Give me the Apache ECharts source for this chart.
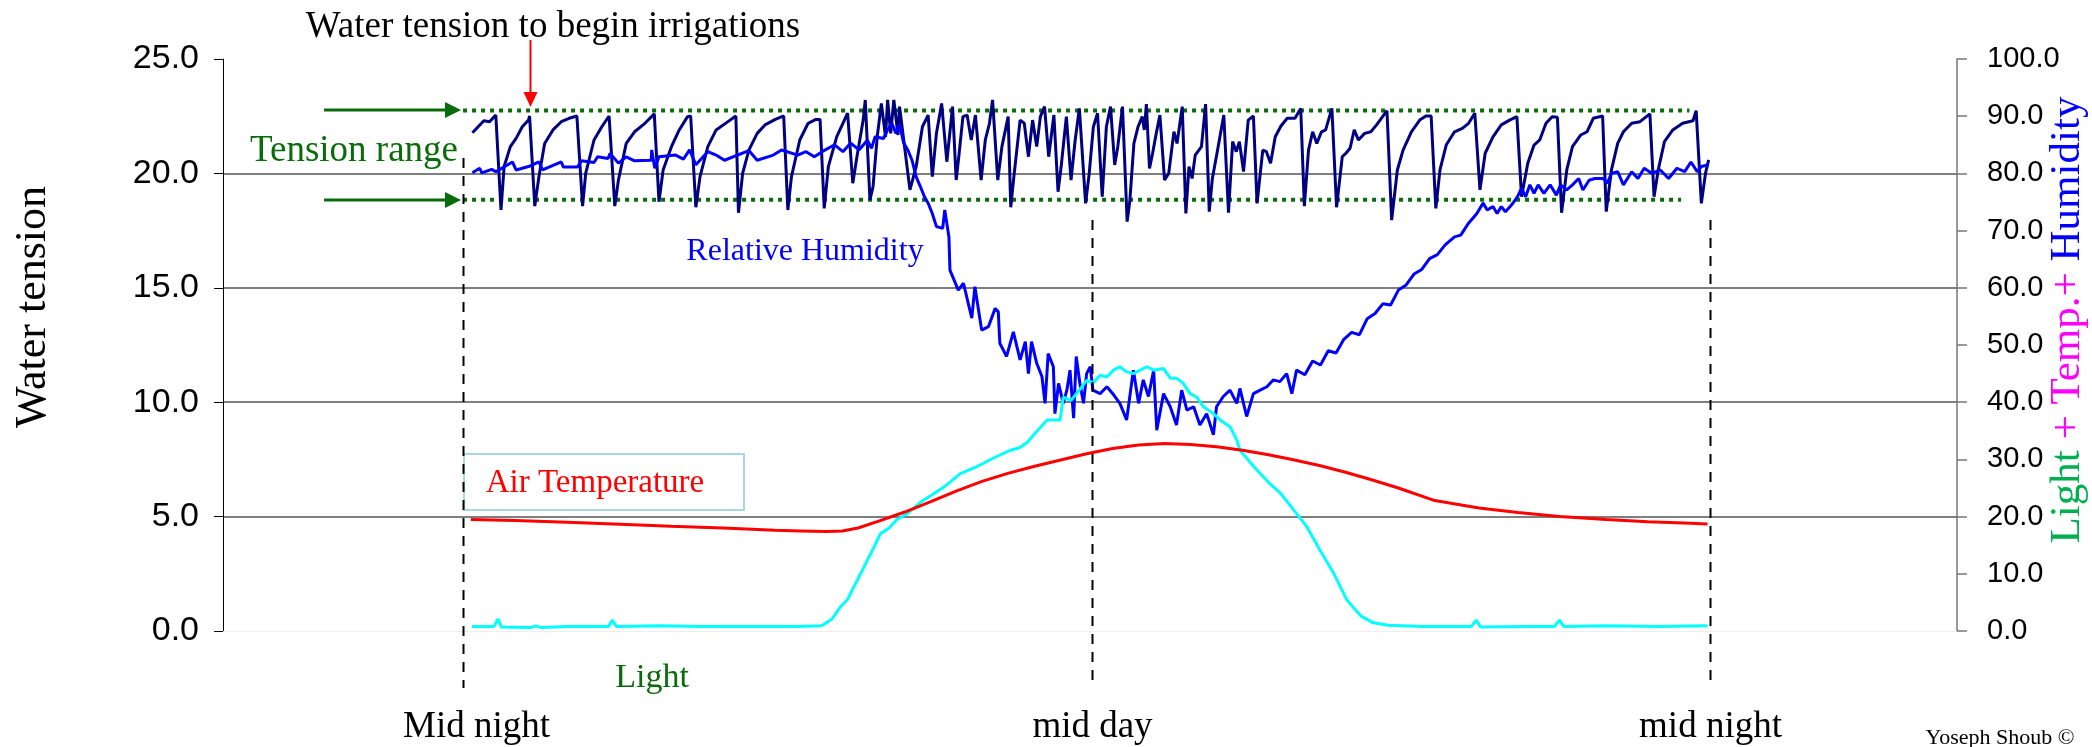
<!DOCTYPE html>
<html>
<head>
<meta charset="utf-8">
<script src="https://cdn.jsdelivr.net/npm/echarts@6/dist/echarts.min.js"></script>
<style>
  html, body { margin: 0; padding: 0; background: #fff; }
  #main { width: 2092px; height: 747px; }
</style>
</head>
<body>
<div id="main"></div>
<script>
// 数据：[小时, 数值]
// 水分张力（左轴）
const tension = [
  [0.18,21.78],[0.40,22.30],[0.51,22.26],[0.63,22.55],[0.65,22.55],[0.73,18.40],
  [0.79,20.30],[0.91,21.17],[1.02,21.53],[1.14,22.04],[1.26,22.33],[1.28,22.51],[1.38,18.57],
  [1.46,19.86],[1.57,21.31],[1.73,21.90],[1.89,22.26],[2.04,22.41],[2.19,22.51],[2.30,18.57],
  [2.36,20.00],[2.52,21.46],[2.67,22.04],[2.81,22.51],[2.92,18.57],
  [2.99,19.71],[3.14,21.31],[3.30,21.82],[3.50,22.19],[3.68,22.60],[3.77,18.76],
  [3.85,20.15],[4.01,21.17],[4.16,21.90],[4.32,22.48],[4.38,22.51],[4.48,18.52],
  [4.56,19.86],[4.71,21.17],[4.87,21.90],[5.07,22.22],[5.25,22.51],[5.30,18.28],
  [5.38,20.00],[5.50,21.02],[5.66,21.75],[5.81,22.12],[6.01,22.36],[6.17,22.51],[6.25,18.40],
  [6.32,19.86],[6.48,21.46],[6.64,22.19],[6.79,22.36],[6.87,22.36],[6.95,18.47],
  [7.03,20.30],[7.19,21.60],[7.31,22.19],[7.40,22.63],[7.50,19.57],[7.58,20.73],[7.70,22.33],
  [7.74,23.21],[7.83,18.84],[7.89,19.42],[7.97,21.60],[8.05,23.06],[8.13,21.60],[8.17,23.21],
  [8.23,21.75],[8.29,23.21],[8.37,21.68],[8.40,22.92],[8.48,21.46],[8.60,19.28],[8.72,20.30],
  [8.84,22.04],[8.95,22.55],[9.03,19.86],[9.11,21.75],[9.21,23.06],[9.31,20.51],[9.42,22.92],
  [9.49,19.71],[9.54,20.73],[9.62,22.48],[9.70,22.55],[9.78,21.46],[9.86,22.55],[9.97,19.71],
  [10.05,21.46],[10.13,22.19],[10.19,23.21],[10.29,19.71],[10.37,21.17],[10.49,22.48],[10.54,18.52],
  [10.60,19.86],[10.72,22.33],[10.80,22.19],[10.88,20.73],[10.96,22.33],[11.04,21.17],[11.11,22.48],
  [11.19,22.92],[11.27,20.73],[11.37,22.55],[11.45,19.20],[11.51,20.30],[11.61,22.48],[11.70,19.71],
  [11.78,21.46],[11.86,22.84],[11.98,18.69],
  [12.05,20.00],[12.13,22.04],[12.21,22.63],[12.30,18.98],[12.38,22.04],[12.46,22.92],[12.54,20.37],
  [12.60,21.17],[12.69,22.92],[12.78,17.89],[12.83,18.76],[12.91,21.31],[12.99,22.04],[13.07,22.48],
  [13.11,21.90],[13.15,23.03],[13.21,20.22],[13.27,20.88],[13.34,21.75],[13.41,22.55],[13.50,19.71],
  [13.58,20.00],[13.68,21.82],[13.74,21.31],[13.84,22.92],[13.91,18.25],[13.97,20.30],[14.03,19.78],
  [14.09,20.80],[14.21,21.17],[14.29,23.03],[14.36,18.33],[14.42,19.78],[14.52,21.02],[14.64,22.55],
  [14.73,18.28],[14.81,21.39],[14.88,20.95],[14.94,21.39],[15.02,20.08],[15.11,22.33],[15.21,22.51],
  [15.28,18.69],[15.39,21.02],[15.46,20.95],[15.54,20.44],[15.63,21.60],[15.74,22.07],[15.86,22.41],
  [16.01,22.41],[16.12,22.84],[16.19,18.57],[16.27,21.02],[16.35,21.82],[16.43,21.31],[16.52,21.82],
  [16.60,21.90],[16.72,22.84],[16.81,18.52],[16.92,20.73],[16.99,20.88],[17.07,21.10],[17.15,21.90],
  [17.23,21.46],[17.35,21.75],[17.47,21.82],[17.58,22.12],[17.78,22.74],[17.87,17.96],
  [17.98,20.15],[18.09,21.02],[18.25,21.82],[18.41,22.33],[18.53,22.51],[18.63,22.51],[18.72,18.47],
  [18.80,20.15],[18.92,21.24],[19.08,21.82],[19.23,21.97],[19.35,22.19],[19.47,22.63],[19.57,19.28],
  [19.67,20.88],[19.82,21.60],[19.98,22.12],[20.14,22.33],[20.28,22.48],[20.37,18.98],
  [20.49,20.44],[20.61,21.24],[20.72,21.46],[20.84,22.19],[20.96,22.48],[21.06,22.45],[21.14,18.28],
  [21.24,20.15],[21.35,21.17],[21.51,21.68],[21.63,21.82],[21.75,22.41],[21.93,22.51],[22.00,18.33],
  [22.10,20.15],[22.22,21.31],[22.33,21.82],[22.49,22.19],[22.65,22.26],[22.84,22.60],[22.92,18.98],
  [23.00,20.15],[23.12,21.39],[23.28,21.90],[23.47,22.19],[23.67,22.30],[23.73,22.74],[23.83,18.69],
  [23.91,20.00],[23.97,20.59]
]

// 相对湿度（右轴）
const humidity = [
  [0.18,80.1],[0.32,80.9],[0.36,80.1],[0.55,80.7],[0.63,80.3],[0.95,82.0],[1.02,80.6],[1.26,81.2],
  [1.46,82.0],[1.53,80.6],[1.89,82.0],[1.93,81.1],[2.20,81.1],[2.28,82.2],[2.52,81.9],[2.59,82.9],
  [2.79,82.6],[2.83,83.5],[2.99,81.8],[3.14,82.9],[3.30,82.2],[3.62,82.3],[3.63,84.1],[3.69,80.9],
  [3.77,82.9],[4.09,83.2],[4.24,82.5],[4.36,84.1],[4.48,81.5],[4.71,83.8],[4.87,83.2],[5.03,82.3],
  [5.50,84.0],[5.66,82.3],[5.97,83.2],[6.13,84.1],[6.44,83.2],[6.60,83.8],[6.76,82.9],[6.91,83.8],
  [7.15,85.0],[7.31,83.8],[7.46,85.3],[7.62,84.1],[7.78,85.8],[7.86,84.4],[7.93,86.4],[8.09,86.1],
  [8.17,87.6],[8.25,88.8],[8.33,87.0],[8.40,88.5],[8.48,85.3],[8.56,84.1],[8.64,82.3],[8.72,79.4],
  [8.80,77.7],[8.88,75.9],[8.95,74.8],[9.03,73.0],[9.11,70.7],[9.23,70.4],[9.27,73.6],[9.35,68.9],
  [9.37,63.1],[9.53,59.6],[9.63,60.8],[9.79,54.7],[9.85,60.2],[9.98,52.6],[10.11,53.2],[10.24,56.4],
  [10.30,55.8],[10.33,50.3],[10.46,48.0],[10.59,52.3],[10.72,47.4],[10.82,50.6],[10.88,45.0],
  [10.94,50.6],[11.04,46.8],[11.14,44.5],[11.20,39.8],[11.26,48.5],[11.36,46.2],[11.39,38.0],
  [11.46,43.3],[11.55,39.8],[11.62,42.1],[11.68,45.6],[11.75,37.2],[11.80,48.0],[11.87,43.3],
  [11.94,39.8],[12.00,45.0],[12.07,46.2],[12.12,42.1],[12.26,41.5],[12.39,42.7],[12.52,41.3],
  [12.64,39.8],[12.77,36.9],[12.90,45.6],[13.00,39.8],[13.09,43.9],[13.19,41.0],[13.29,45.6],
  [13.35,35.1],[13.48,41.5],[13.61,39.2],[13.73,36.0],[13.83,42.1],[13.93,38.6],[14.06,39.2],
  [14.18,36.0],[14.31,38.0],[14.44,34.3],[14.50,39.2],[14.63,41.0],[14.76,42.1],[14.89,39.8],
  [14.95,42.4],[15.08,37.5],[15.21,41.5],[15.34,42.1],[15.47,42.7],[15.59,43.9],[15.72,43.6],
  [15.85,45.0],[15.95,41.5],[16.04,45.6],[16.20,44.8],[16.35,47.2],[16.50,46.5],[16.65,49.0],
  [16.80,48.6],[16.95,51.0],[17.10,52.2],[17.25,51.8],[17.40,54.6],[17.55,55.5],[17.70,57.2],
  [17.85,57.0],[18.00,59.6],[18.15,60.5],[18.30,62.4],[18.45,63.2],[18.60,65.1],[18.75,65.8],
  [18.90,67.5],[19.08,68.9],[19.20,69.2],[19.35,71.3],[19.51,73.0],[19.63,74.8],[19.71,73.6],
  [19.82,74.2],[19.90,73.0],[19.98,74.2],[20.06,73.3],[20.18,74.5],[20.29,75.9],[20.37,77.4],
  [20.45,75.9],[20.53,78.0],[20.61,76.5],[20.69,78.0],[20.80,76.5],[20.92,78.0],[21.04,76.2],
  [21.12,78.0],[21.24,77.1],[21.35,78.0],[21.47,79.1],[21.55,77.1],[21.67,78.8],[21.78,79.1],
  [21.94,79.1],[22.02,78.3],[22.10,80.0],[22.22,80.3],[22.33,78.0],[22.49,80.3],[22.61,79.1],
  [22.73,80.9],[22.88,80.0],[23.04,80.6],[23.20,79.1],[23.36,80.9],[23.51,80.3],[23.63,82.0],
  [23.75,80.3],[23.83,81.2],[23.97,81.5]
]

// 气温（右轴）
const airTemp = [
  [0.15,19.5],[1.0,19.3],[2.0,19.0],[2.9,18.7],[4.0,18.3],[5.0,18.0],[6.0,17.6],[6.5,17.5],
  [7.0,17.4],[7.3,17.5],[7.6,18.0],[8.0,19.2],[8.5,20.8],[9.0,22.6],[9.5,24.5],[10.0,26.2],
  [10.5,27.6],[11.0,28.8],[11.5,29.9],[12.0,31.0],[12.5,31.9],[13.0,32.5],[13.5,32.8],[14.0,32.6],
  [14.5,32.2],[15.0,31.6],[15.5,30.8],[16.0,29.9],[16.5,28.9],[17.0,27.7],[17.5,26.4],[18.0,25.0],
  [18.7,22.8],[19.55,21.5],[20.3,20.7],[21.1,20.0],[22.0,19.5],[22.8,19.1],[23.5,18.9],[23.95,18.7]
]

// 光照（右轴）
const light = [
  [0.17,0.8],[0.60,0.8],[0.67,2.1],[0.74,0.7],[1.30,0.6],[1.40,0.9],[1.50,0.6],[2.00,0.8],
  [2.80,0.8],[2.87,1.9],[2.95,0.8],[3.80,0.9],[4.60,0.8],[5.60,0.8],[6.40,0.8],[6.90,0.9],
  [7.10,2.1],[7.26,4.2],[7.40,5.5],[7.52,7.7],[7.65,10.0],[7.78,12.4],[7.90,14.5],[8.03,17.0],
  [8.20,18.0],[8.35,19.5],[8.55,20.5],[8.80,22.5],[9.06,24.0],[9.30,25.5],[9.57,27.5],[9.90,28.8],
  [10.20,30.2],[10.53,31.6],[10.70,32.0],[10.85,32.9],[11.00,34.5],[11.24,36.9],[11.49,36.9],
  [11.55,40.9],[11.70,40.3],[11.91,42.7],[12.00,43.8],[12.13,43.4],[12.26,44.7],[12.39,44.4],
  [12.52,45.6],[12.64,46.2],[12.77,45.3],[12.90,45.0],[13.03,45.6],[13.16,46.2],[13.29,45.6],
  [13.48,45.9],[13.61,44.2],[13.73,44.2],[13.86,43.3],[13.99,41.5],[14.12,40.9],[14.25,39.2],
  [14.44,38.0],[14.57,36.9],[14.76,35.7],[14.89,33.4],[14.95,31.6],[15.22,28.7],[15.50,26.0],
  [15.74,24.0],[16.00,21.0],[16.24,18.2],[16.50,14.0],[16.76,10.0],[17.01,5.4],[17.28,2.6],
  [17.50,1.5],[17.80,1.0],[18.50,0.8],[19.40,0.8],[19.50,1.9],[19.58,0.7],[20.50,0.8],[21.00,0.8],
  [21.10,1.9],[21.18,0.8],[22.00,0.9],[23.00,0.8],[23.95,0.9]
]

// 张力范围（上下限）
const rangeTop = [[0, 22.75], [23.6, 22.75]]
const rangeBottom = [[0, 18.85], [23.44, 18.85]]

// 坐标轴刻度
const leftTicks = { min: 0, max: 25, interval: 5 }
const rightTicks = { min: 0, max: 100, interval: 10 }
const timeMarks = [0, 12.1, 24]
const timeLabels = ['Mid night', 'mid day', 'mid night']

const serif = 'Liberation Serif, Times New Roman, serif'
const sans = 'Liberation Sans, Arial, sans-serif'

let chart = echarts.init(document.getElementById('main'))

const option = {
    animation: false,
    backgroundColor: '#fff',
    grid: { left: 223, right: 135, top: 59, bottom: 116, containLabel: false },
    xAxis: {
        type: 'value',
        min: -4.62,
        max: 28.75,
        axisLine: { show: true, onZero: false, lineStyle: { color: '#eeeeee', width: 1 } },
        axisTick: { show: false },
        axisLabel: { show: false },
        splitLine: { show: false }
    },
    yAxis: [
        {
            type: 'value',
            position: 'left',
            min: leftTicks.min,
            max: leftTicks.max,
            interval: leftTicks.interval,
            axisLine: { show: true, onZero: false, lineStyle: { color: '#000', width: 1 } },
            axisTick: { show: true, length: 9, lineStyle: { color: '#000' } },
            axisLabel: {
                margin: 24,
                color: '#000',
                fontSize: 34,
                fontFamily: sans,
                formatter: v => v.toFixed(1)
            },
            splitLine: {
                show: true,
                showMinLine: false,
                showMaxLine: false,
                lineStyle: { color: '#555', width: 1.5 }
            }
        },
        {
            type: 'value',
            position: 'right',
            min: rightTicks.min,
            max: rightTicks.max,
            interval: rightTicks.interval,
            axisLine: { show: true, onZero: false, lineStyle: { color: '#777', width: 1.5 } },
            axisTick: { show: true, length: 10, lineStyle: { color: '#777', width: 1.5 } },
            axisLabel: {
                margin: 30,
                color: '#000',
                fontSize: 29,
                fontFamily: sans,
                formatter: v => v.toFixed(1)
            },
            splitLine: { show: false }
        }
    ],
    series: [
        {
            name: 'Tension top',
            type: 'line',
            yAxisIndex: 0,
            data: rangeTop,
            symbol: 'none',
            lineStyle: { color: '#0a6b0a', width: 4, type: [4, 5] },
            z: 1
        },
        {
            name: 'Tension bottom',
            type: 'line',
            yAxisIndex: 0,
            data: rangeBottom,
            symbol: 'none',
            lineStyle: { color: '#0a6b0a', width: 4, type: [4, 5] },
            z: 1
        },
        {
            name: 'Water tension',
            type: 'line',
            yAxisIndex: 0,
            data: tension,
            symbol: 'none',
            lineStyle: { color: '#000080', width: 3 },
            z: 2
        },
        {
            name: 'Relative Humidity',
            type: 'line',
            yAxisIndex: 1,
            data: humidity,
            symbol: 'none',
            lineStyle: { color: '#0000ff', width: 3 },
            z: 3
        },
        {
            name: 'Light',
            type: 'line',
            yAxisIndex: 1,
            data: light,
            symbol: 'none',
            lineStyle: { color: '#00ffff', width: 3 },
            z: 3
        },
        {
            name: 'Air Temperature',
            type: 'line',
            yAxisIndex: 1,
            data: airTemp,
            symbol: 'none',
            lineStyle: { color: '#ff0000', width: 3 },
            z: 4
        }
    ]
}
chart.setOption(option)

// 注释：虚线、箭头、文字
function px(h, v) {
    return chart.convertToPixel({ xAxisIndex: 0, yAxisIndex: 0 }, [h, v])
}

let graphics = []

timeMarks.forEach((h, i) => {
    let x = Math.round(px(h, 0)[0]) + 0.5
    let top = i === 0 ? 158 : 220
    graphics.push({
        type: 'line',
        shape: { x1: x, y1: top, x2: x, y2: 688 },
        style: { stroke: '#000', lineWidth: 2, lineDash: [10, 8] },
        z: 10
    })
    graphics.push({
        type: 'text',
        x: x + (i === 0 ? 13 : 0),
        y: 727,
        style: {
            text: timeLabels[i],
            font: '37px ' + serif,
            fill: '#000',
            align: 'center',
            verticalAlign: 'middle'
        },
        z: 10
    })
})

// 绿色箭头（张力范围）
;[rangeTop[0][1], rangeBottom[0][1]].forEach(v => {
    let y = Math.round(px(0, v)[1])
    let tip = Math.round(px(0, v)[0]) - 2
    graphics.push({
        type: 'line',
        shape: { x1: 324, y1: y, x2: tip - 14, y2: y },
        style: { stroke: '#0a6b0a', lineWidth: 3 },
        z: 10
    })
    graphics.push({
        type: 'polygon',
        shape: { points: [[tip - 16, y - 8], [tip, y], [tip - 16, y + 8]] },
        style: { fill: '#0a6b0a' },
        z: 10
    })
})

// 红色箭头
{
    let p = px(1.29, rangeTop[0][1])
    let x = Math.round(p[0]) + 0.5
    let tip = Math.round(p[1]) - 3
    graphics.push({
        type: 'line',
        shape: { x1: x, y1: 40, x2: x, y2: tip - 12 },
        style: { stroke: '#ff0000', lineWidth: 2 },
        z: 10
    })
    graphics.push({
        type: 'polygon',
        shape: { points: [[x - 7, tip - 15], [x + 7, tip - 15], [x, tip]] },
        style: { fill: '#ff0000' },
        z: 10
    })
}

graphics.push(
    {
        type: 'text', x: 553, y: 27,
        style: { text: 'Water tension to begin irrigations', font: '37px ' + serif, fill: '#000', align: 'center', verticalAlign: 'middle' },
        z: 10
    },
    {
        type: 'text', x: 354, y: 151,
        style: { text: 'Tension range', font: '37px ' + serif, fill: '#0a6b0a', align: 'center', verticalAlign: 'middle' },
        z: 10
    },
    {
        type: 'text', x: 805, y: 252,
        style: { text: 'Relative Humidity', font: '32px ' + serif, fill: '#0000ff', align: 'center', verticalAlign: 'middle' },
        z: 10
    },
    {
        type: 'rect',
        shape: { x: 464, y: 454, width: 280, height: 56 },
        style: { fill: 'rgba(255,255,255,0)', stroke: '#a9d7df', lineWidth: 2 },
        z: 9
    },
    {
        type: 'text', x: 595, y: 483,
        style: { text: 'Air Temperature', font: '33px ' + serif, fill: '#ff0000', align: 'center', verticalAlign: 'middle' },
        z: 10
    },
    {
        type: 'text', x: 652, y: 678,
        style: { text: 'Light', font: '34px ' + serif, fill: '#0a6b0a', align: 'center', verticalAlign: 'middle' },
        z: 10
    },
    {
        type: 'text', x: 33, y: 307, rotation: Math.PI / 2,
        style: { text: 'Water tension', font: '44px ' + serif, fill: '#000', align: 'center', verticalAlign: 'middle' },
        z: 10
    },
    {
        type: 'text', x: 2068, y: 320, rotation: Math.PI / 2,
        style: {
            text: '{g|Light }{m|+ Temp.+ }{b|Humidity}',
            align: 'center',
            verticalAlign: 'middle',
            rich: {
                g: { font: '43px ' + serif, fill: '#00b050' },
                m: { font: '43px ' + serif, fill: '#ff00ff' },
                b: { font: '43px ' + serif, fill: '#0000ff' }
            }
        },
        z: 10
    },
    {
        type: 'text', x: 2000, y: 738,
        style: { text: 'Yoseph Shoub ©', font: '22px ' + serif, fill: '#000', align: 'center', verticalAlign: 'middle' },
        z: 10
    }
)

chart.setOption({ graphic: graphics })
</script>
</body>
</html>
